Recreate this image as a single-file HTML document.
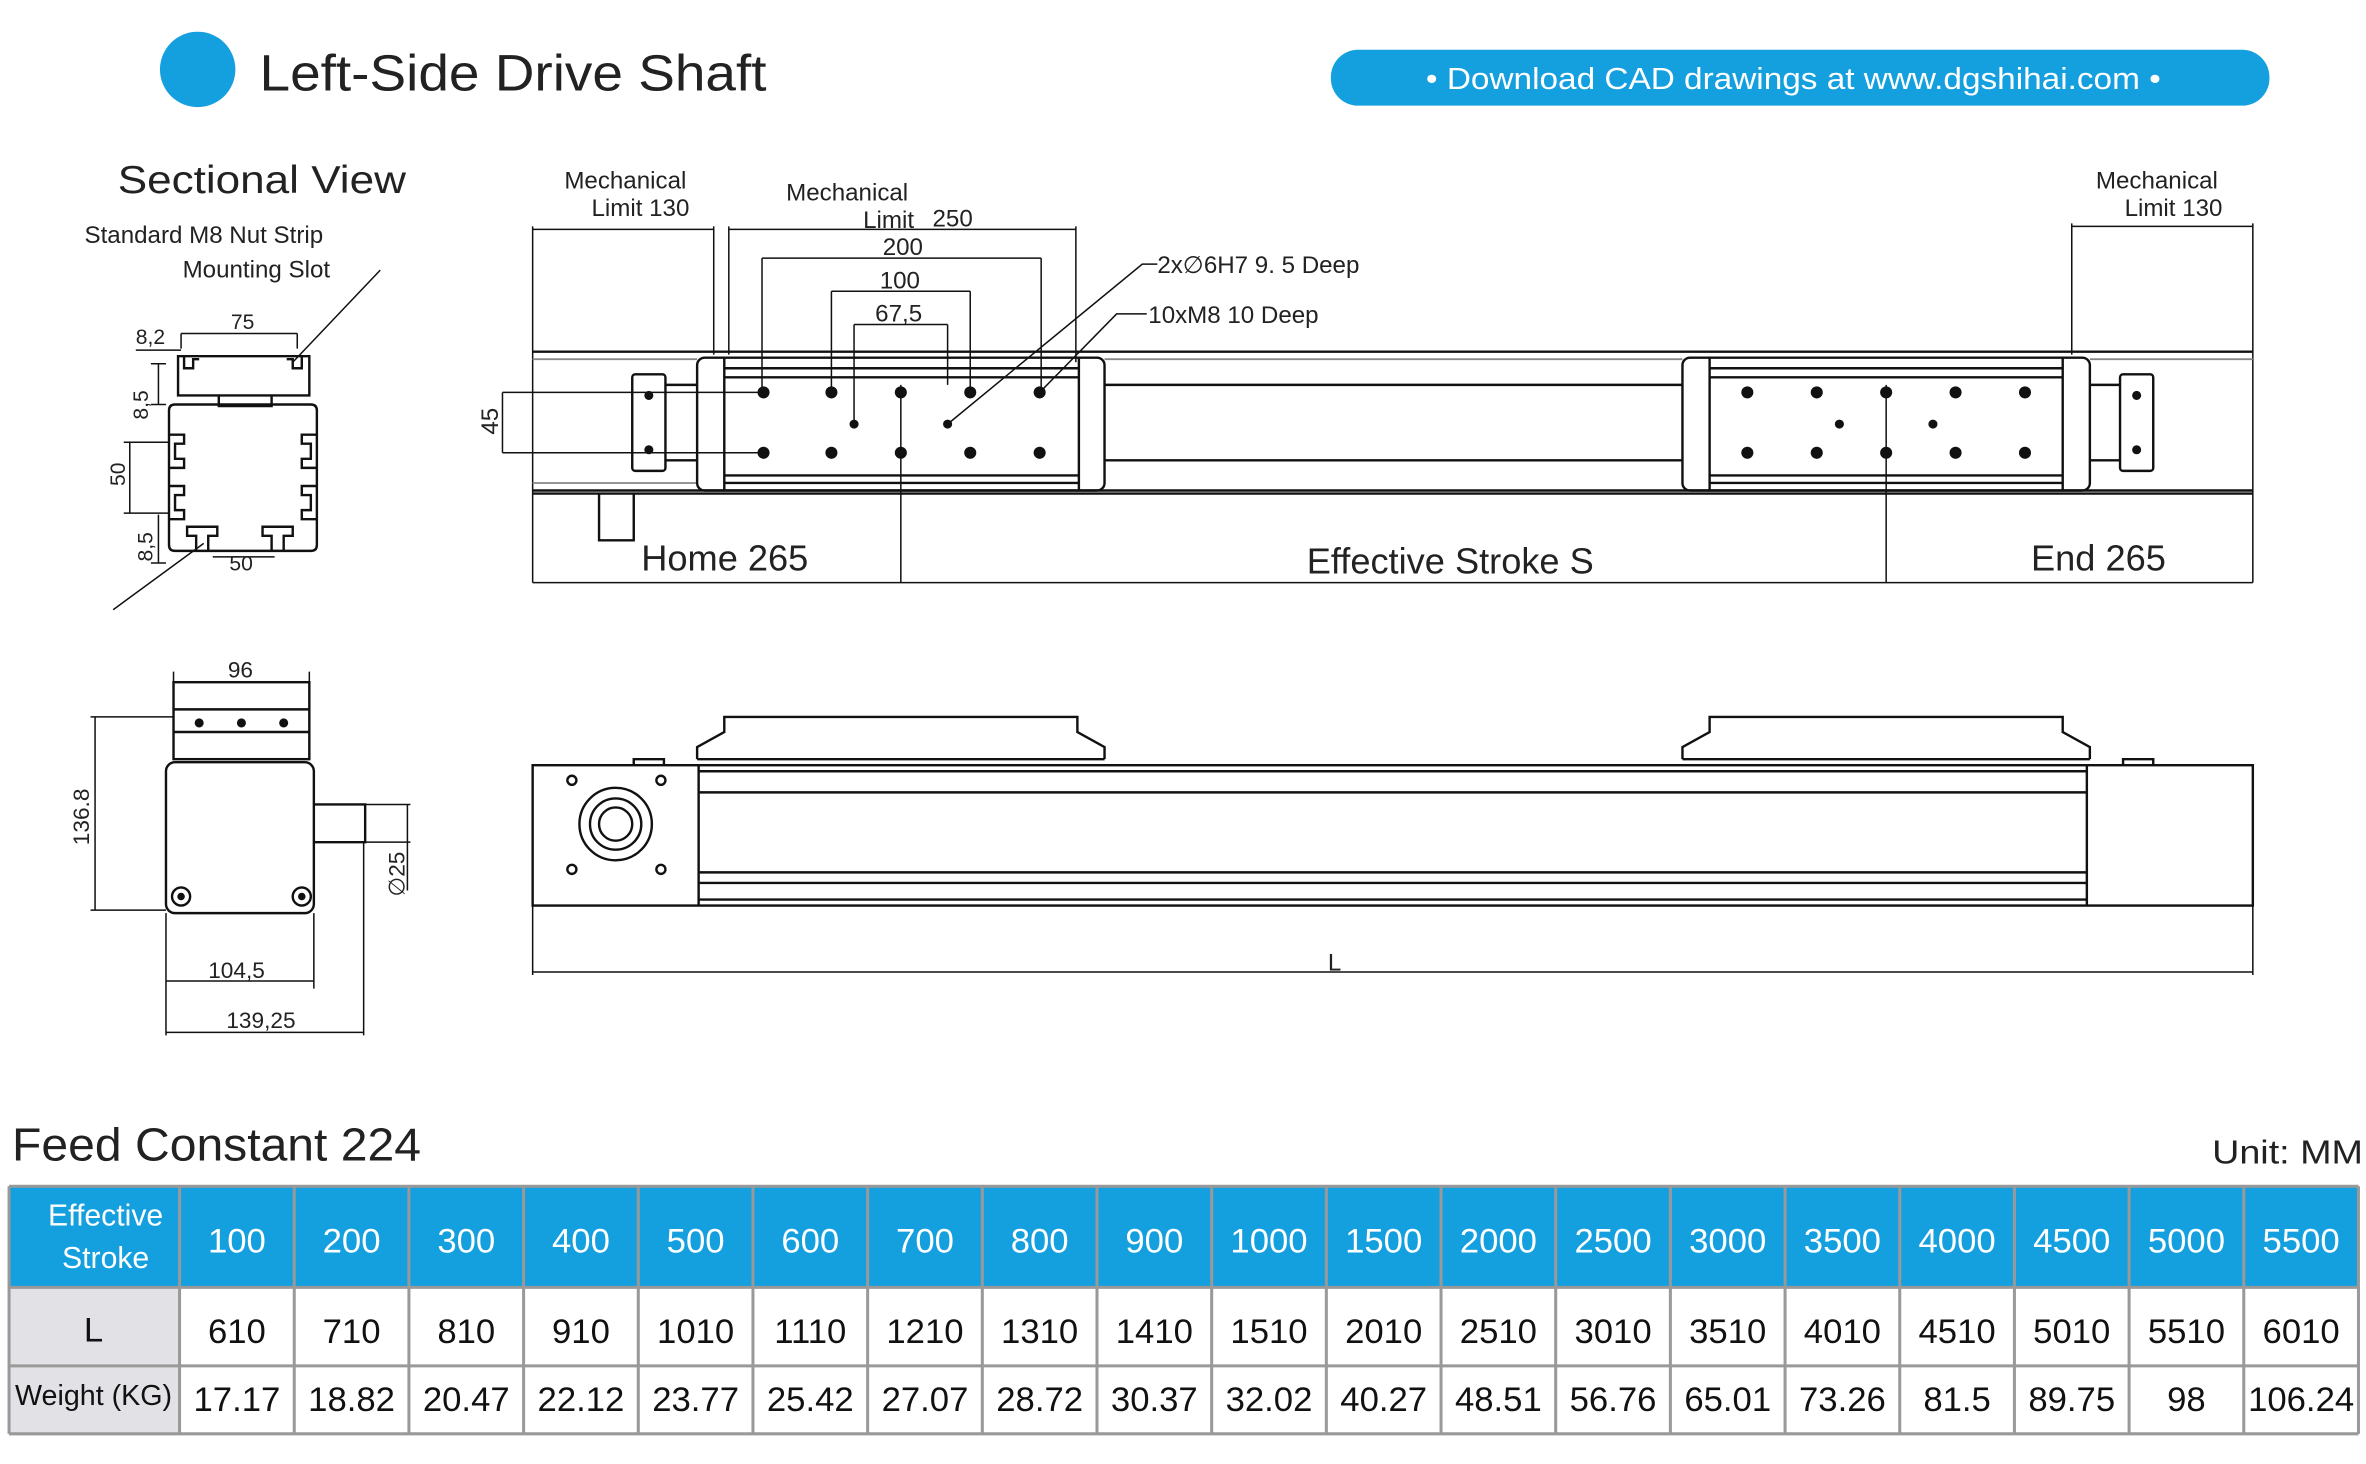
<!DOCTYPE html>
<html><head><meta charset="utf-8"><style>
html,body{margin:0;padding:0;background:#fff}
svg{display:block}
text{font-family:"Liberation Sans",sans-serif}
.s{fill:none;stroke:#111;stroke-width:1.6}
.t{fill:none;stroke:#111;stroke-width:1}
.g{fill:none;stroke:#888;stroke-width:1.2}
</style></head><body>
<svg width="2366" height="1464" viewBox="0 0 1568 970" preserveAspectRatio="none" xmlns="http://www.w3.org/2000/svg">
<!-- header -->
<circle cx="131" cy="46" r="25" fill="#149fdf"/>
<text x="172" y="60" font-size="34" fill="#222" textLength="336" lengthAdjust="spacingAndGlyphs">Left-Side Drive Shaft</text>
<rect x="882" y="33" width="622" height="37" rx="18" fill="#149fdf"/>
<text x="945" y="59" font-size="20" fill="#fff" textLength="487" lengthAdjust="spacingAndGlyphs">• Download CAD drawings at www.dgshihai.com •</text>

<text x="78" y="128" font-size="26" fill="#222" textLength="191" lengthAdjust="spacingAndGlyphs">Sectional View</text>
<text x="56" y="161" font-size="16" fill="#222">Standard M8 Nut Strip</text>
<text x="121" y="184" font-size="16" fill="#222">Mounting Slot</text>
<path class="t" d="M252 179 L194 240 M75 404 L135 360"/>

<!-- cross section -->
<g class="s">
<path d="M118 236 H205 V262 H118 Z"/>
<path d="M122 236 v8 h6 v-6 h4 M200 236 v8 h-6 v-6 h-4"/>
<path d="M145 262 v7 h35 v-7"/>
<path d="M112 272 q0 -4 4 -4 H206 q4 0 4 4 V361 q0 4 -4 4 H116 q-4 0 -4 -4 Z"/>
<path d="M112 288 h10 v6 h-6 v10 h6 v6 h-10 M112 322 h10 v6 h-6 v10 h6 v6 h-10"/>
<path d="M210 288 h-10 v6 h6 v10 h-6 v6 h10 M210 322 h-10 v6 h6 v10 h-6 v6 h10"/>
<path d="M130 365 v-10 h-6 v-6 h20 v6 h-6 v10 M180 365 v-10 h-6 v-6 h20 v6 h-6 v10"/>
</g>
<g class="t">
<path d="M120 221 H197 M120 221 v10 M197 221 v10 M90 232 H120"/>
<path d="M105 241 V268 M100 241 h10 M100 268 h10"/>
<path d="M86 293 V340 M82 293 h30 M82 340 h30"/>
<path d="M105 341 V373 M100 373 h10"/>
<path d="M141 369 H182"/>
</g>
<g font-size="14" font-family="Liberation Serif,serif" fill="#222">
<text x="90" y="228">8,2</text><text x="153" y="218">75</text>
<text x="98" y="278" transform="rotate(-90 98 278)">8,5</text>
<text x="83" y="322" transform="rotate(-90 83 322)">50</text>
<text x="101" y="372" transform="rotate(-90 101 372)">8,5</text>
<text x="152" y="378">50</text>
</g>

<!-- top view -->
<g font-size="16" fill="#222">
<text x="374" y="125">Mechanical</text><text x="392" y="143">Limit 130</text>
<text x="521" y="133">Mechanical</text><text x="572" y="151">Limit</text>
<text x="1389" y="125">Mechanical</text><text x="1408" y="143">Limit 130</text>
</g>
<g font-size="16" font-family="Liberation Serif,serif" fill="#222">
<text x="618" y="150">250</text><text x="585" y="169">200</text><text x="583" y="191">100</text><text x="580" y="213">67,5</text>
<text x="767" y="181">2x∅6H7 9. 5 <tspan font-family="Liberation Sans">Deep</tspan></text>
<text x="761" y="214">10xM8 10 <tspan font-family="Liberation Sans">Deep</tspan></text>
<text x="330" y="288" transform="rotate(-90 330 288)">45</text>
<text x="880" y="643">L</text>
</g>
<g class="t">
<path d="M353 152 H473 M483 152 H713 M505 171 H690 M551 193 H643 M566 215 H628 M1373 150 H1493"/>
<path d="M353 150 V386 M473 150 V235 M483 150 V235 M713 150 V240 M505 171 V260 M690 171 V260 M551 193 V260 M643 193 V260 M566 215 V281 M628 215 V255 M1373 148 V235 M1493 148 V386"/>
<path d="M353 386 H1493 M597 255 V386 M1250 255 V386"/>
<path d="M333 260 V300 M333 260 H506 M333 300 H506"/>
<path d="M628 281 L757 175 H767 M689 260 L740 208 H760"/>
</g>
<g class="s">
<path d="M353 233 H1493 M353 327 H1493 M353 325 H1493"/>
<path class="g" d="M353 238 H462 M732 238 H1115 M1385 238 H1493 M353 320 H462"/>
<path d="M732 255 H1115 M732 305 H1115"/>
<rect x="462" y="237" width="270" height="88" rx="5"/>
<rect x="1115" y="237" width="270" height="88" rx="5"/>
<path d="M480 237 V325 M715 237 V325 M1133 237 V325 M1367 237 V325"/>
<path d="M480 244 H715 M480 250 H715 M480 315 H715 M480 320 H715 M1133 244 H1367 M1133 250 H1367 M1133 315 H1367 M1133 320 H1367"/>
<rect x="419" y="248" width="22" height="64" rx="2"/>
<rect x="1405" y="248" width="22" height="64" rx="2"/>
<path d="M441 255 H462 M441 305 H462 M1385 255 H1405 M1385 305 H1405"/>
<path d="M397 327 V358 H420 V327"/>
</g>
<g fill="#111">
<circle cx="506" cy="260" r="4"/><circle cx="551" cy="260" r="4"/><circle cx="597" cy="260" r="4"/><circle cx="643" cy="260" r="4"/><circle cx="689" cy="260" r="4"/>
<circle cx="506" cy="300" r="4"/><circle cx="551" cy="300" r="4"/><circle cx="597" cy="300" r="4"/><circle cx="643" cy="300" r="4"/><circle cx="689" cy="300" r="4"/>
<circle cx="566" cy="281" r="3"/><circle cx="628" cy="281" r="3"/>
<circle cx="1158" cy="260" r="4"/><circle cx="1204" cy="260" r="4"/><circle cx="1250" cy="260" r="4"/><circle cx="1296" cy="260" r="4"/><circle cx="1342" cy="260" r="4"/>
<circle cx="1158" cy="300" r="4"/><circle cx="1204" cy="300" r="4"/><circle cx="1250" cy="300" r="4"/><circle cx="1296" cy="300" r="4"/><circle cx="1342" cy="300" r="4"/>
<circle cx="1219" cy="281" r="3"/><circle cx="1281" cy="281" r="3"/>
<circle cx="430" cy="262" r="3"/><circle cx="430" cy="298" r="3"/><circle cx="1416" cy="262" r="3"/><circle cx="1416" cy="298" r="3"/>
</g>
<g font-size="24" fill="#222">
<text x="425" y="378">Home 265</text>
<text x="866" y="380">Effective Stroke S</text>
<text x="1346" y="378">End 265</text>
</g>

<!-- front view -->
<g class="s">
<rect x="353" y="507" width="1140" height="93"/>
<path d="M463 507 V600 M1383 507 V600"/>
<path d="M463 511 H1383 M463 525 H1383 M463 578 H1383 M463 585 H1383 M463 596 H1383"/>
<path d="M462 503 H732 M462 503 V495 L480 485 V475 H714 V485 L732 495 V503"/>
<path d="M1115 503 H1385 M1115 503 V495 L1133 485 V475 H1367 V485 L1385 495 V503"/>
<path d="M420 507 V503 H440 V507 M1407 507 V503 H1427 V507"/>
<circle cx="408" cy="546" r="24"/><circle cx="408" cy="546" r="17"/><circle cx="408" cy="546" r="11"/>
<circle cx="379" cy="517" r="3"/><circle cx="438" cy="517" r="3"/><circle cx="379" cy="576" r="3"/><circle cx="438" cy="576" r="3"/>
</g>
<path class="t" d="M353 600 V646 M1493 600 V646 M353 644 H1493"/>

<!-- left bottom view -->
<g class="s">
<rect x="115" y="452" width="90" height="51"/>
<path d="M115 470 H205 M115 485 H205"/>
<rect x="110" y="505" width="98" height="100" rx="6"/>
<path d="M208 533 H242 V558 H208"/>
<circle cx="120" cy="594" r="6"/><circle cx="200" cy="594" r="6"/>
</g>
<g fill="#111"><circle cx="132" cy="479" r="3"/><circle cx="160" cy="479" r="3"/><circle cx="188" cy="479" r="3"/><circle cx="120" cy="594" r="2.5"/><circle cx="200" cy="594" r="2.5"/></g>
<g class="t">
<path d="M115 452 H205 M115 445 V452 M205 445 V452"/>
<path d="M63 475 V603 M60 475 H115 M60 603 H110"/>
<path d="M110 650 H208 M110 605 V686 M208 605 V655"/>
<path d="M110 684 H241 M241 558 V686"/>
<path d="M270 533 V590 M242 533 H272 M242 558 H272"/>
</g>
<g font-size="15" font-family="Liberation Serif,serif" fill="#222">
<text x="151" y="449">96</text>
<text x="59" y="560" transform="rotate(-90 59 560)">136.8</text>
<text x="138" y="648">104,5</text>
<text x="150" y="681">139,25</text>
<text x="268" y="594" transform="rotate(-90 268 594)">∅25</text>
</g>

<!-- table -->
<text x="8" y="769" font-size="31" fill="#222" textLength="271" lengthAdjust="spacingAndGlyphs">Feed Constant 224</text>
<text x="1466" y="771" font-size="22" fill="#222" textLength="100" lengthAdjust="spacingAndGlyphs">Unit: MM</text>
<rect x="6" y="786" width="1557" height="67" fill="#149fdf"/>
<rect x="6" y="853" width="113" height="97" fill="#e1e1e6"/>
<g stroke="#999" stroke-width="2" fill="none">
<path d="M6 786 H1563 M6 853 H1563 M6 905 H1563 M6 950 H1563 M6 786 V950 M1563 786 V950"/>
<path d="M119 786V950M195 786V950M271 786V950M347 786V950M423 786V950M499 786V950M575 786V950M651 786V950M727 786V950M803 786V950M879 786V950M955 786V950M1031 786V950M1107 786V950M1183 786V950M1259 786V950M1335 786V950M1411 786V950M1487 786V950"/>
</g>
<g font-size="20" fill="#fff" text-anchor="middle">
<text x="70" y="812">Effective</text><text x="70" y="840">Stroke</text>
</g>
<g font-size="23" text-anchor="middle">
<g fill="#fff">
<text x="157" y="830">100</text><text x="233" y="830">200</text><text x="309" y="830">300</text><text x="385" y="830">400</text><text x="461" y="830">500</text><text x="537" y="830">600</text><text x="613" y="830">700</text><text x="689" y="830">800</text><text x="765" y="830">900</text><text x="841" y="830">1000</text><text x="917" y="830">1500</text><text x="993" y="830">2000</text><text x="1069" y="830">2500</text><text x="1145" y="830">3000</text><text x="1221" y="830">3500</text><text x="1297" y="830">4000</text><text x="1373" y="830">4500</text><text x="1449" y="830">5000</text><text x="1525" y="830">5500</text>
</g>
<g fill="#111">
<text x="62" y="889">L</text>
<text x="157" y="890">610</text><text x="233" y="890">710</text><text x="309" y="890">810</text><text x="385" y="890">910</text><text x="461" y="890">1010</text><text x="537" y="890">1110</text><text x="613" y="890">1210</text><text x="689" y="890">1310</text><text x="765" y="890">1410</text><text x="841" y="890">1510</text><text x="917" y="890">2010</text><text x="993" y="890">2510</text><text x="1069" y="890">3010</text><text x="1145" y="890">3510</text><text x="1221" y="890">4010</text><text x="1297" y="890">4510</text><text x="1373" y="890">5010</text><text x="1449" y="890">5510</text><text x="1525" y="890">6010</text>
<text x="157" y="935">17.17</text><text x="233" y="935">18.82</text><text x="309" y="935">20.47</text><text x="385" y="935">22.12</text><text x="461" y="935">23.77</text><text x="537" y="935">25.42</text><text x="613" y="935">27.07</text><text x="689" y="935">28.72</text><text x="765" y="935">30.37</text><text x="841" y="935">32.02</text><text x="917" y="935">40.27</text><text x="993" y="935">48.51</text><text x="1069" y="935">56.76</text><text x="1145" y="935">65.01</text><text x="1221" y="935">73.26</text><text x="1297" y="935">81.5</text><text x="1373" y="935">89.75</text><text x="1449" y="935">98</text><text x="1525" y="935">106.24</text>
</g>
<text x="62" y="931" font-size="19" fill="#111">Weight (KG)</text>
</g>
</svg>
</body></html>
